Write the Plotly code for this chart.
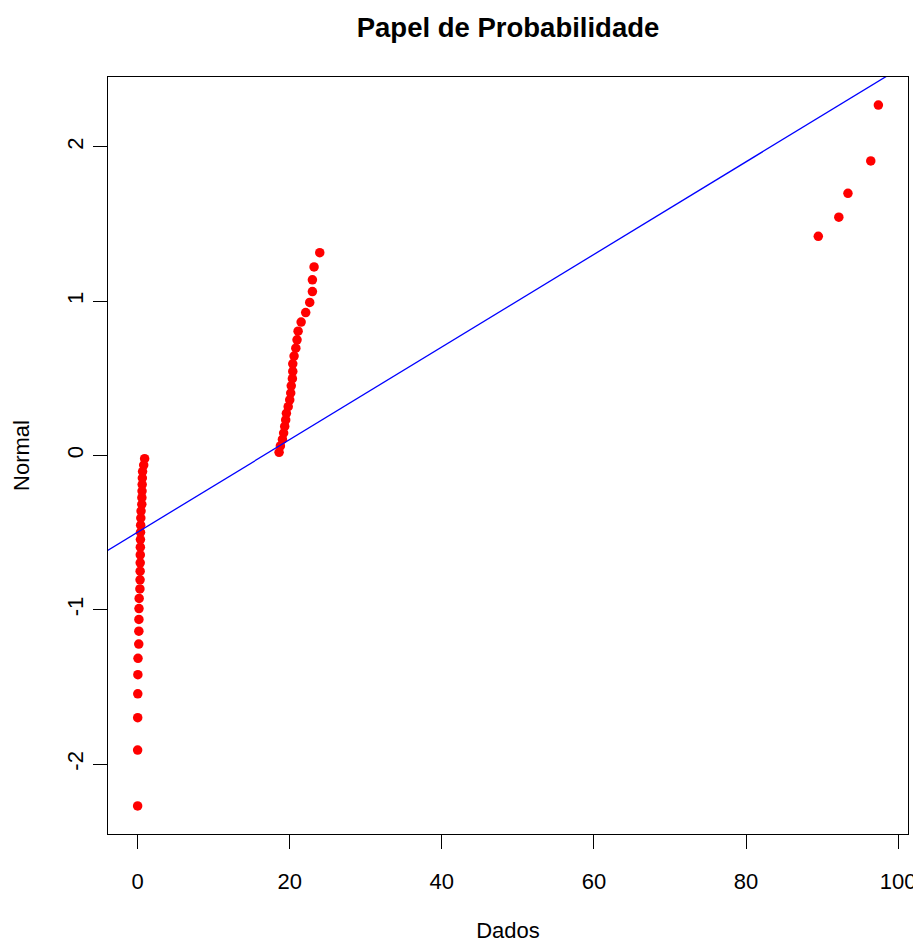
import plotly.graph_objects as go

# Data (sorted data vs. normal quantiles)
dados = [
    0.00, 0.00, 0.01, 0.02, 0.03, 0.05, 0.15, 0.16, 0.17, 0.18,
    0.20, 0.30, 0.32, 0.33, 0.34, 0.35, 0.36, 0.37, 0.38, 0.40,
    0.42, 0.45, 0.55, 0.56, 0.58, 0.60, 0.62, 0.65, 0.80, 0.92,
    18.60, 18.77, 19.04, 19.20, 19.34, 19.47, 19.56, 19.80, 20.00, 20.13,
    20.20, 20.35, 20.40, 20.40, 20.57, 20.80, 20.96, 21.10, 21.50, 22.10,
    22.63, 22.98, 22.98, 23.20, 23.95,
    89.50, 92.20, 93.40, 96.40, 97.40,
]
normal = [
    -2.2708, -1.9087, -1.6986, -1.5442, -1.4199, -1.3144, -1.2216, -1.1383, -1.0623, -0.9920,
    -0.9260, -0.8643, -0.8055, -0.7492, -0.6953, -0.6440, -0.5940, -0.5444, -0.4975, -0.4512,
    -0.4050, -0.3603, -0.3165, -0.2730, -0.2302, -0.1881, -0.1458, -0.1040, -0.0623, -0.0208,
    0.0208, 0.0623, 0.1040, 0.1458, 0.1881, 0.2302, 0.2730, 0.3165, 0.3603, 0.4050,
    0.4512, 0.4975, 0.5444, 0.5940, 0.6440, 0.6953, 0.7492, 0.8055, 0.8643, 0.9260,
    0.9920, 1.0623, 1.1383, 1.2216, 1.3144,
    1.4199, 1.5442, 1.6986, 1.9087, 2.2708,
]

# Reference line (intercept, slope)
intercept = -0.497
slope = 0.0300
line_x = [-10, 110]
line_y = [intercept + slope * v for v in line_x]

x_ticks = [0, 20, 40, 60, 80, 100]
y_ticks = [-2, -1, 0, 1, 2]

# R-style 4% axis extension
xmin, xmax = min(dados), max(dados)
ymin, ymax = min(normal), max(normal)
xr = [xmin - 0.04 * (xmax - xmin), xmax + 0.04 * (xmax - xmin)]
yr = [ymin - 0.04 * (ymax - ymin), ymax + 0.04 * (ymax - ymin)]

FONT = "Liberation Sans, Arial, Helvetica, sans-serif"

fig = go.Figure()
fig.add_trace(go.Scatter(
    x=dados, y=normal, mode="markers",
    marker=dict(color="#ff0000", size=9.5, line=dict(width=0)),
    showlegend=False, cliponaxis=False,
))
fig.add_trace(go.Scatter(
    x=line_x, y=line_y, mode="lines",
    line=dict(color="#0000ff", width=1.3),
    showlegend=False,
))

axis_common = dict(
    showgrid=False, zeroline=False, automargin=False,
    showline=True, linecolor="black", linewidth=1, mirror=True,
    ticks="outside", ticklen=14, tickwidth=1, tickcolor="black",
    tickfont=dict(family=FONT, size=22, color="black"),
)

W, H = 921, 937
fig.update_layout(
    width=W, height=H,
    margin=dict(l=100, r=21, t=69, b=111),
    paper_bgcolor="white", plot_bgcolor="white",
    title=dict(
        text="<b>Papel de Probabilidade</b>",
        font=dict(family=FONT, size=27.5, color="black"),
        x=0.5, xanchor="center", xref="paper",
        y=1 - 19.5 / H, yanchor="middle", yref="container",
    ),
    xaxis=dict(
        range=xr, tickvals=x_ticks, ticktext=[str(t) for t in x_ticks],
        title=dict(text="Dados", font=dict(family=FONT, size=22, color="black"), standoff=29),
        ticklabelstandoff=14,
        **axis_common,
    ),
    yaxis=dict(
        range=yr, tickvals=y_ticks, ticktext=[str(t) for t in y_ticks],
        tickangle=-90,
        title=dict(text="Normal", font=dict(family=FONT, size=22, color="black"), standoff=27),
        ticklabelstandoff=1,
        **axis_common,
    ),
)

fig.write_html("out.html")
